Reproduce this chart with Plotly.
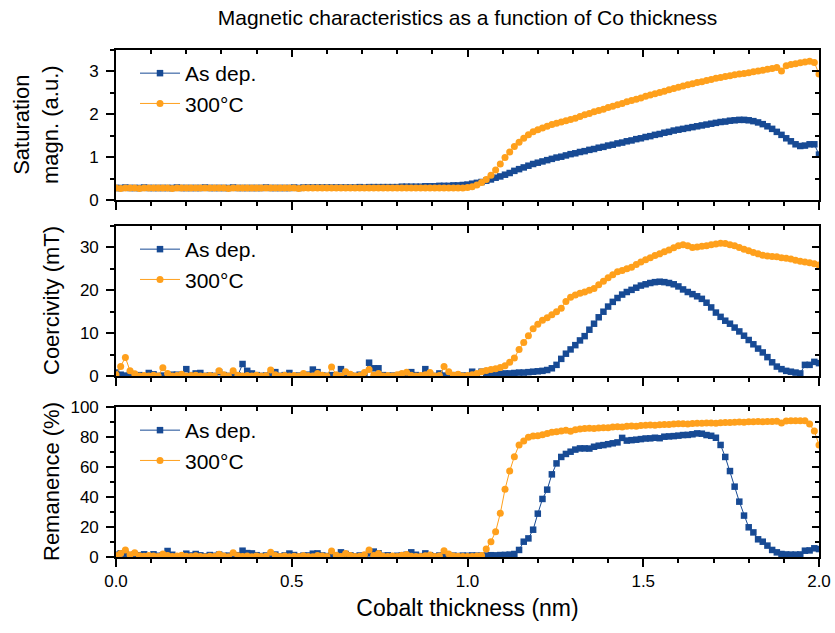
import numpy as np
import plotly.graph_objects as go

# ---------------- data ----------------
thickness = np.round(np.linspace(0, 2, 151), 4)  # Co thickness grid (nm)

ms_asdep = [
    0.28,0.28,0.29,0.28,0.28,0.28,0.29,0.28,0.28,0.28,
    0.28,0.28,0.28,0.29,0.28,0.28,0.28,0.28,0.28,0.29,
    0.28,0.28,0.28,0.28,0.28,0.29,0.28,0.28,0.28,0.28,
    0.28,0.28,0.29,0.28,0.28,0.28,0.28,0.28,0.29,0.28,
    0.29,0.29,0.29,0.29,0.29,0.29,0.29,0.29,0.29,0.29,
    0.29,0.29,0.30,0.29,0.30,0.30,0.30,0.30,0.30,0.30,
    0.30,0.31,0.31,0.31,0.31,0.31,0.32,0.32,0.32,0.33,
    0.33,0.33,0.34,0.34,0.35,0.36,0.38,0.40,0.42,0.45,
    0.48,0.52,0.55,0.59,0.63,0.68,0.72,0.76,0.80,0.84,
    0.87,0.90,0.93,0.96,0.99,1.01,1.04,1.07,1.09,1.12,
    1.14,1.17,1.19,1.22,1.24,1.27,1.29,1.32,1.34,1.37,
    1.39,1.42,1.44,1.47,1.49,1.52,1.54,1.57,1.59,1.62,
    1.64,1.66,1.68,1.70,1.72,1.74,1.76,1.78,1.80,1.82,
    1.83,1.85,1.86,1.87,1.87,1.86,1.84,1.81,1.77,1.72,
    1.66,1.59,1.52,1.44,1.37,1.30,1.26,1.27,1.30,1.30,
    1.06]

ms_300 = [
    0.28,0.27,0.28,0.28,0.28,0.27,0.28,0.28,0.28,0.28,
    0.28,0.28,0.27,0.28,0.28,0.28,0.28,0.28,0.28,0.28,
    0.28,0.28,0.28,0.28,0.27,0.28,0.28,0.28,0.28,0.28,
    0.28,0.28,0.28,0.28,0.28,0.28,0.28,0.28,0.28,0.27,
    0.28,0.28,0.28,0.28,0.28,0.28,0.28,0.28,0.28,0.28,
    0.28,0.28,0.28,0.28,0.28,0.28,0.28,0.28,0.28,0.28,
    0.28,0.28,0.28,0.28,0.28,0.28,0.28,0.28,0.28,0.28,
    0.28,0.28,0.28,0.28,0.28,0.29,0.31,0.35,0.41,0.48,
    0.58,0.70,0.84,0.99,1.12,1.25,1.35,1.44,1.52,1.59,
    1.64,1.68,1.72,1.76,1.79,1.82,1.85,1.88,1.91,1.95,
    1.99,2.02,2.06,2.09,2.12,2.16,2.19,2.22,2.25,2.29,
    2.32,2.35,2.38,2.42,2.45,2.48,2.51,2.54,2.57,2.60,
    2.63,2.66,2.69,2.71,2.74,2.76,2.79,2.81,2.84,2.86,
    2.88,2.90,2.92,2.94,2.95,2.97,2.99,3.01,3.03,3.05,
    3.07,3.09,3.01,3.13,3.16,3.18,3.20,3.22,3.24,3.21,
    2.94]

hc_asdep = [
    0.8,0.3,0.1,0.5,0.0,0.2,0.0,0.7,0.4,0.0,
    0.1,0.0,0.3,0.3,0.0,1.6,0.2,0.6,0.7,0.0,
    0.1,0.0,0.9,0.2,0.0,0.3,0.1,2.8,1.2,0.6,
    0.2,0.0,0.1,0.3,0.9,0.0,0.2,0.7,0.0,0.1,
    0.0,0.3,1.5,0.9,0.1,0.0,0.2,0.0,1.6,0.4,
    0.1,0.0,0.3,0.0,3.1,1.8,1.8,0.2,0.0,0.1,
    0.0,0.3,0.0,0.9,0.2,0.0,1.6,0.3,0.0,0.6,
    0.1,0.0,0.2,0.0,0.1,0.0,1.0,0.3,1.0,0.5,
    0.4,0.7,0.5,0.6,0.6,0.7,0.8,0.8,0.9,1.0,
    1.1,1.2,1.4,1.8,2.6,4.0,5.2,6.2,7.2,8.3,
    9.3,10.8,12.2,13.7,15.0,16.2,17.3,18.2,19.0,19.6,
    20.1,20.6,21.1,21.4,21.7,21.9,22.0,21.9,21.7,21.4,
    20.9,20.2,19.6,19.1,18.6,18.0,17.1,16.0,14.8,13.8,
    12.9,12.2,11.3,10.4,9.4,8.4,7.4,6.4,5.5,4.4,
    3.2,2.2,1.6,1.2,1.0,0.8,0.6,2.6,2.6,3.3,
    3.0]

hc_300 = [
    0.3,2.2,4.3,1.2,0.5,0.0,0.1,0.0,0.2,0.0,
    1.9,0.6,0.0,0.1,0.4,0.0,0.1,0.2,0.0,0.0,
    0.1,0.0,1.2,0.3,0.0,1.2,0.2,0.0,0.1,0.0,
    0.2,0.0,0.1,1.4,0.3,0.0,0.2,0.0,0.1,0.0,
    0.6,0.1,0.0,0.6,0.2,0.0,2.1,0.3,0.0,1.0,
    0.4,0.0,0.1,0.8,1.5,0.2,0.6,0.0,0.1,0.0,
    0.3,0.6,0.9,0.2,0.0,0.1,0.3,0.8,0.0,0.1,
    2.2,1.0,0.2,0.4,0.0,0.1,0.3,0.6,1.0,1.3,
    1.5,1.7,2.0,2.4,3.2,4.2,6.2,7.8,9.4,11.0,
    12.1,13.0,13.6,14.3,15.0,15.8,17.4,18.4,18.9,19.3,
    19.6,20.0,20.4,21.3,22.1,22.9,23.6,24.3,24.6,25.0,
    25.4,26.0,26.6,27.1,27.6,28.1,28.5,29.0,29.4,29.9,
    30.4,30.6,30.4,30.0,30.1,30.3,30.4,30.6,30.8,31.0,
    30.9,30.6,30.4,30.0,29.6,29.2,28.8,28.5,28.2,28.0,
    27.9,27.8,27.6,27.5,27.3,27.0,26.8,26.6,26.4,26.2,
    25.9]

rem_asdep = [
    1.5,2.4,2.2,1.0,1.8,1.2,1.8,0.6,1.8,0.8,
    1.2,4.0,1.5,0.5,0.4,2.2,1.0,2.0,1.1,0.5,
    1.3,0.8,1.6,0.7,0.9,0.5,1.2,4.2,2.6,2.4,
    1.2,0.6,1.0,0.8,1.6,0.4,1.0,2.3,1.3,0.5,
    0.9,1.0,2.2,2.4,1.0,0.6,1.2,0.8,3.1,2.0,
    1.1,0.4,1.0,0.6,2.4,3.6,2.5,0.8,1.1,0.4,
    0.8,1.0,1.5,3.1,1.5,0.6,2.4,1.2,0.5,1.0,
    0.8,0.4,0.9,0.6,0.9,0.8,1.0,0.9,0.8,1.0,
    1.2,1.1,1.3,1.4,1.6,2.0,4.7,10.2,12.4,18.2,
    28.9,38.7,44.9,55.1,62.4,66.7,68.7,70.2,71.6,72.4,
    72.4,72.3,73.5,74.2,74.6,75.2,75.8,76.4,79.4,77.6,
    77.9,78.2,78.6,79.0,79.1,79.5,79.2,80.2,80.4,80.6,
    80.9,81.3,81.4,81.8,82.4,82.2,81.3,80.8,79.5,74.7,
    66.7,57.3,46.9,36.9,27.6,19.8,16.4,11.8,10.2,7.6,
    4.7,3.1,2.0,1.7,1.6,1.6,1.7,4.2,4.4,5.8,
    5.3]

rem_300 = [
    1.0,2.4,4.7,1.5,2.9,0.8,0.5,1.0,0.6,0.4,
    2.0,1.0,0.3,0.6,1.2,0.5,0.3,0.8,0.4,0.2,
    0.5,0.3,1.8,0.6,0.2,2.9,0.8,0.4,0.6,0.2,
    0.7,0.3,0.5,3.1,1.0,0.3,0.6,0.2,0.5,0.3,
    0.9,0.4,0.2,1.0,0.6,0.3,4.0,1.2,0.4,2.4,
    1.0,0.3,0.5,1.5,4.7,1.0,2.4,0.5,0.3,0.6,
    0.4,1.2,1.6,0.5,0.3,0.4,0.8,1.4,0.4,0.6,
    4.2,2.0,0.6,0.5,0.4,0.3,0.4,0.6,1.0,5.3,
    10.2,16.9,29.1,45.1,57.3,66.9,74.7,77.3,79.8,80.6,
    80.9,81.5,82.3,83.1,83.5,84.0,84.5,83.8,84.9,85.3,
    85.6,85.8,85.6,86.0,86.2,86.1,86.6,86.9,86.7,87.1,
    87.3,87.2,87.6,87.8,88.0,87.9,88.2,88.4,88.3,88.6,
    88.8,88.9,88.7,89.0,89.2,89.1,89.3,89.4,89.2,89.5,
    89.7,89.6,89.8,90.0,89.9,90.2,90.1,90.3,90.2,90.4,
    90.3,90.5,89.3,90.6,90.8,90.9,90.9,90.8,88.6,84.0,
    74.7]

series_names = ["As dep.", "300°C"]
y_titles = ["Saturation<br>magn. (a.u.)", "Coercivity (mT)", "Remanence (%)"]
y_ranges = [[0, 3.5], [0, 35], [0, 100]]
y_dticks = [1, 10, 20]
y_minor = [0.5, 5, 10]
x_title = "Cobalt thickness (nm)"
chart_title = "Magnetic characteristics as a function of Co thickness"

# ---------------- styling ----------------
BLUE = "#174a94"
ORANGE = "#ffa01c"
FONT = "Liberation Sans, Arial, sans-serif"
W, H = 835, 633
ML, MR, MT, MB = 116, 16, 50, 76
PW, PH = W - ML - MR, H - MT - MB
panel_px = [(50, 200), (226, 376), (407, 557)]  # top/bottom pixel rows of each panel
domains = [[(H - MB - b) / PH, (H - MB - t) / PH] for t, b in panel_px]
ytitle_xpx = [36, 51, 51]  # horizontal centre of each y title (px from left)

fig = go.Figure()
data = [(ms_asdep, ms_300), (hc_asdep, hc_300), (rem_asdep, rem_300)]
for k, (a, b) in enumerate(data, start=1):
    sx = "" if k == 1 else str(k)
    fig.add_trace(go.Scatter(
        x=thickness, y=a, mode="lines+markers", name=series_names[0],
        xaxis="x" + sx, yaxis="y" + sx, legend="legend" + sx,
        line=dict(color=BLUE, width=1),
        marker=dict(symbol="square", size=6.5, color=BLUE, line=dict(width=0))))
    fig.add_trace(go.Scatter(
        x=thickness, y=b, mode="lines+markers", name=series_names[1],
        xaxis="x" + sx, yaxis="y" + sx, legend="legend" + sx,
        line=dict(color=ORANGE, width=1),
        marker=dict(symbol="circle", size=7, color=ORANGE, line=dict(width=0))))
    # dummy traces so the inward-tick overlay axes are drawn
    fig.add_trace(go.Scatter(x=[None], y=[None], xaxis="x" + str(k + 3), yaxis="y" + sx,
                             showlegend=False, hoverinfo="skip"))
    fig.add_trace(go.Scatter(x=[None], y=[None], xaxis="x" + sx, yaxis="y" + str(k + 3),
                             showlegend=False, hoverinfo="skip"))

tickfont = dict(family=FONT, size=17, color="black")
annotations = []
layout = dict(
    width=W, height=H, margin=dict(l=ML, r=MR, t=MT, b=MB, autoexpand=False),
    paper_bgcolor="white", plot_bgcolor="white",
    font=dict(family=FONT, color="black"),
    title=dict(text=chart_title, x=0.5, xref="paper", xanchor="center",
               y=1 - 18 / H, yref="container", yanchor="middle",
               font=dict(family=FONT, size=21, color="black")),
    showlegend=True,
)
for k in range(1, 4):
    sx = "" if k == 1 else str(k)
    dom = domains[k - 1]
    layout["xaxis" + sx] = dict(
        domain=[0, 1], anchor="y" + sx, range=[0, 2], dtick=0.5, tick0=0,
        tickformat=".1f", showticklabels=(k == 3), tickfont=tickfont,
        ticks="outside", ticklen=8, tickwidth=1.5, tickcolor="black",
        minor=dict(ticks="outside", ticklen=4, dtick=0.1, tickwidth=1.5, tickcolor="black"),
        showline=True, linewidth=1.6, linecolor="black", mirror=True,
        showgrid=False, zeroline=False, automargin=False,
        title=dict(text=x_title if k == 3 else "", font=dict(family=FONT, size=23), standoff=10),
    )
    layout["yaxis" + sx] = dict(
        domain=dom, anchor="x" + sx, range=y_ranges[k - 1], dtick=y_dticks[k - 1], tick0=0,
        tickfont=tickfont, ticks="outside", ticklen=8, tickwidth=1.5, tickcolor="black",
        ticklabelstandoff=4,
        minor=dict(ticks="outside", ticklen=4, dtick=y_minor[k - 1], tickwidth=1.5, tickcolor="black"),
        showline=True, linewidth=1.6, linecolor="black", mirror=True,
        showgrid=False, zeroline=False, automargin=False,
    )
    annotations.append(dict(
        text=y_titles[k - 1], textangle=-90, showarrow=False,
        xref="paper", x=(ytitle_xpx[k - 1] - ML) / PW, xanchor="center",
        yref="paper", y=(dom[0] + dom[1]) / 2, yanchor="middle",
        font=dict(family=FONT, size=22, color="black")))
    # inward ticks on top and right edges
    layout["xaxis" + str(k + 3)] = dict(
        overlaying="x" + sx, anchor="y" + sx, side="top", range=[0, 2], dtick=0.5, tick0=0,
        ticks="inside", ticklen=7, tickwidth=1.5, tickcolor="black",
        minor=dict(ticks="inside", ticklen=4, dtick=0.1, tickwidth=1.5, tickcolor="black"),
        showticklabels=False, showline=False, showgrid=False, zeroline=False)
    layout["yaxis" + str(k + 3)] = dict(
        overlaying="y" + sx, anchor="x" + sx, side="right", range=y_ranges[k - 1],
        dtick=y_dticks[k - 1], tick0=0,
        ticks="inside", ticklen=7, tickwidth=1.5, tickcolor="black",
        minor=dict(ticks="inside", ticklen=4, dtick=y_minor[k - 1], tickwidth=1.5, tickcolor="black"),
        showticklabels=False, showline=False, showgrid=False, zeroline=False)
    layout["legend" + sx] = dict(
        x=19 / PW, xref="paper", xanchor="left",
        y=dom[1] - 3 / PH, yref="paper", yanchor="top",
        bgcolor="rgba(0,0,0,0)", borderwidth=0,
        font=dict(family=FONT, size=21, color="black"),
        tracegroupgap=0, itemwidth=40)

layout["annotations"] = annotations
fig.update_layout(**layout)
fig.write_html("out.html")
